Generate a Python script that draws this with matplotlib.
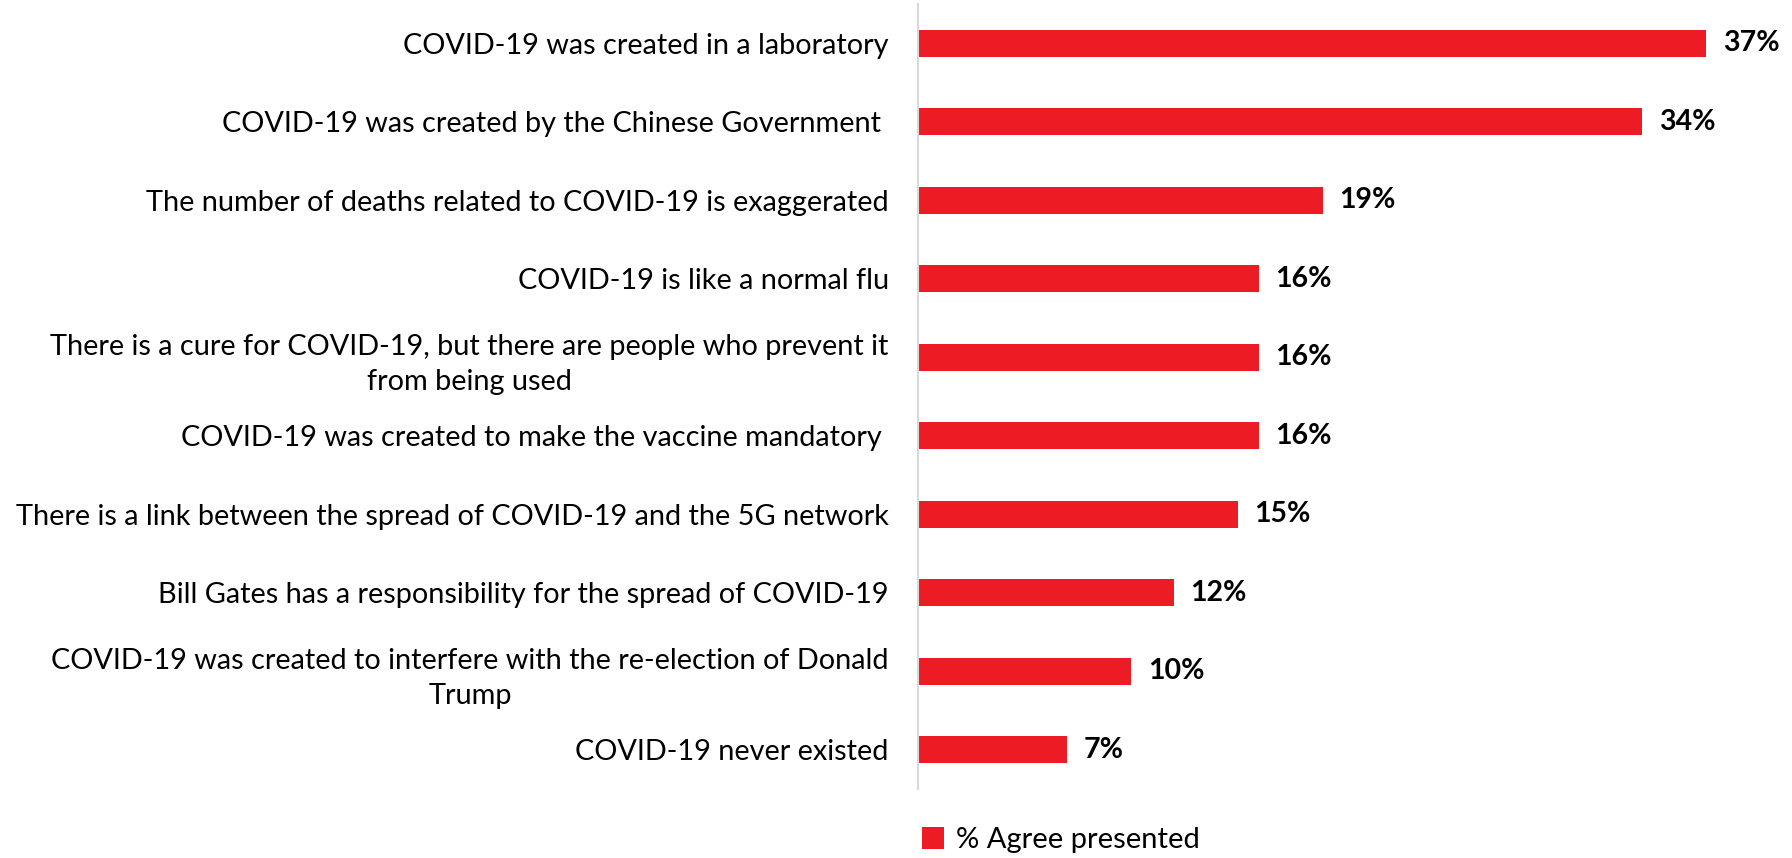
import matplotlib
matplotlib.use("Agg")
import matplotlib.pyplot as plt

categories = [
    "COVID-19 was created in a laboratory",
    "COVID-19 was created by the Chinese Government ",
    "The number of deaths related to COVID-19 is exaggerated",
    "COVID-19 is like a normal flu",
    "There is a cure for COVID-19, but there are people who prevent it\nfrom being used",
    "COVID-19 was created to make the vaccine mandatory ",
    "There is a link between the spread of COVID-19 and the 5G network",
    "Bill Gates has a responsibility for the spread of COVID-19",
    "COVID-19 was created to interfere with the re-election of Donald\nTrump",
    "COVID-19 never existed",
]
values = [37, 34, 19, 16, 16, 16, 15, 12, 10, 7]
series_name = "% Agree presented"

RED = "#ED1C24"
W, H = 1792, 858
fig = plt.figure(figsize=(W / 100, H / 100), dpi=100)
ax = fig.add_axes([918 / W, 1 - 789 / H, 852 / W, 785 / H])

y = list(range(len(categories)))
bars = ax.barh(y, values, height=0.34, color=RED, label=series_name)
ax.set_ylim(len(categories) - 0.5, -0.5)
ax.set_xlim(0, 40)

ax.set_yticks(y)
ax.set_yticklabels(categories, fontsize=20.8, family="Lato",
                   multialignment="center", linespacing=1.45)
ax.tick_params(axis="y", length=0, pad=21)
ax.set_xticks([])
for s in ["top", "right", "bottom"]:
    ax.spines[s].set_visible(False)
ax.spines["left"].set_color("#D9D9D9")
ax.spines["left"].set_linewidth(1.5)

for yi, v in zip(y, values):
    ax.annotate(f"{v}%", (v, yi), xytext=(12, 0), textcoords="offset points",
                va="center", ha="left", fontsize=20.5, fontweight="bold", family="Lato")

fig.legend(handles=[bars], labels=[series_name], loc="center left",
           bbox_to_anchor=(922 / W, 1 - 840 / H), frameon=False,
           handlelength=0.75, handleheight=0.75, handletextpad=0.4,
           borderpad=0, borderaxespad=0, prop={"family": "Lato", "size": 21})

fig.savefig("out.png", dpi=100)
